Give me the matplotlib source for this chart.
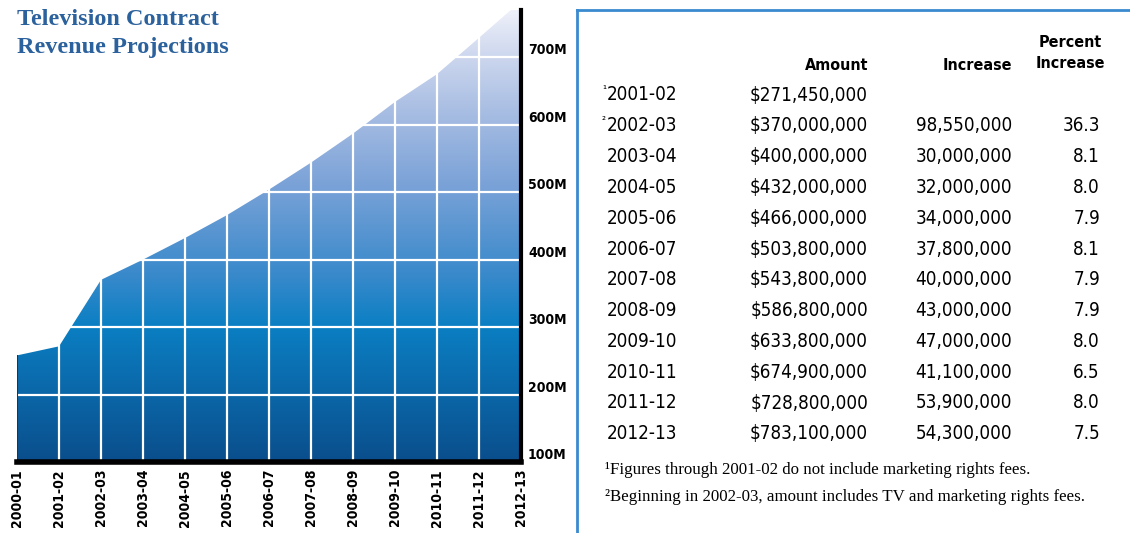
import matplotlib.pyplot as plt
import numpy as np
from matplotlib.colors import LinearSegmentedColormap
from matplotlib.patches import Polygon
from matplotlib.lines import Line2D

seasons = ['2000-01', '2001-02', '2002-03', '2003-04', '2004-05', '2005-06', '2006-07',
           '2007-08', '2008-09', '2009-10', '2010-11', '2011-12', '2012-13']
amounts = [258.0, 271.45, 370.0, 400.0, 432.0, 466.0, 503.8,
           543.8, 586.8, 633.8, 674.9, 728.8, 783.1]
y_ticks = [100, 200, 300, 400, 500, 600, 700]

# table
table_marks = ['\u00b9', '\u00b2', '', '', '', '', '', '', '', '', '', '']
table_seasons = seasons[1:]
table_amounts = [271450000, 370000000, 400000000, 432000000, 466000000, 503800000,
                 543800000, 586800000, 633800000, 674900000, 728800000, 783100000]
table_increase = [None, 98550000, 30000000, 32000000, 34000000, 37800000,
                  40000000, 43000000, 47000000, 41100000, 53900000, 54300000]
table_pct = [None, 36.3, 8.1, 8.0, 7.9, 8.1, 7.9, 7.9, 8.0, 6.5, 8.0, 7.5]

footnotes = ['\u00b9Figures through 2001-02 do not include marketing rights fees.',
             '\u00b2Beginning in 2002-03, amount includes TV and marketing rights fees.']

narrow = dict(family='DejaVu Sans', stretch='condensed')
serif = dict(family='Liberation Serif')
W, H = 1130, 533


def px(x, y):
    return x / W, 1 - y / H


fig = plt.figure(figsize=(W / 100, H / 100), dpi=100)
ax = fig.add_axes([17 / W, 71 / H, 504 / W, 452 / H])
ax.patch.set_visible(False)

ymax = 770
x = np.arange(len(seasons))
ax.set_xlim(0, len(seasons) - 1)
ax.set_ylim(100, ymax)

# gradient fill clipped to the area under the line
cmap = LinearSegmentedColormap.from_list('tv', [
    (0.0, '#0b4e8c'), (0.30, '#0a7fc3'), (0.42, '#3b8acb'), (0.62, '#7ca3d8'),
    (0.78, '#a9bee3'), (0.90, '#cdd7ee'), (1.0, '#eef0f9')])
verts = [(0, 100)] + list(zip(x, amounts)) + [(x[-1], 100)]
poly = Polygon(verts, closed=True, facecolor='none', edgecolor='none')
ax.add_patch(poly)
grad = np.linspace(0, 1, 256).reshape(-1, 1)
im = ax.imshow(grad, cmap=cmap, origin='lower', aspect='auto',
               extent=[0, x[-1], 100, ymax], zorder=1)
im.set_clip_path(poly)

# white grid
ax.vlines(x[1:-1], 100, ymax, color='white', lw=1.6, zorder=2)
ax.hlines(y_ticks[1:], 0, x[-1], color='white', lw=1.6, zorder=2)
ax.vlines(0, 100, amounts[0], color='#0a3a6a', lw=1.5, zorder=3)

for s in ['top', 'left']:
    ax.spines[s].set_visible(False)
ax.spines['right'].set_linewidth(3)
ax.spines['bottom'].set_linewidth(4)
ax.spines['right'].set_zorder(4)
ax.spines['bottom'].set_zorder(4)

ax.yaxis.tick_right()
ax.set_yticks(y_ticks)
ax.set_yticklabels([f'{v}M' for v in y_ticks], weight='bold', fontsize=10, **narrow)
for lbl in ax.get_yticklabels():
    lbl.set_va('bottom')
ax.set_xticks(x)
ax.set_xticklabels(seasons, rotation=90, weight='bold', fontsize=10, **narrow)
ax.tick_params(length=0, pad=5)

# title
fig.text(*px(17, 9), 'Television Contract\nRevenue Projections', ha='left', va='top',
         weight='bold', fontsize=17.5, color='#2b619c', linespacing=1.45, **serif)

# table frame
blue = '#3a8ad0'
fig.add_artist(Line2D([577 / W, 1], [1 - 10 / H] * 2, transform=fig.transFigure, color=blue, lw=2))
fig.add_artist(Line2D([577 / W] * 2, [1 - 10 / H, 0], transform=fig.transFigure, color=blue, lw=2))

# headers
hdr = dict(weight='bold', fontsize=11.5, va='center', ha='right', **narrow)
fig.text(*px(868, 65), 'Amount', **hdr)
fig.text(*px(1012, 65), 'Increase', **hdr)
fig.text(*px(1105, 53), 'Percent\nIncrease', multialignment='center', linespacing=1.45, **hdr)

# rows
row = dict(fontsize=13.5, va='center', **narrow)
for i in range(len(table_seasons)):
    yy = 95 + i * 30.8
    fig.text(*px(606, yy - 5), table_marks[i], ha='right', fontsize=8, va='center', **narrow)
    fig.text(*px(607, yy), table_seasons[i], ha='left', **row)
    fig.text(*px(868, yy), f'${table_amounts[i]:,}', ha='right', **row)
    if table_increase[i] is not None:
        fig.text(*px(1012, yy), f'{table_increase[i]:,}', ha='right', **row)
        fig.text(*px(1100, yy), f'{table_pct[i]:.1f}', ha='right', **row)

for i, note in enumerate(footnotes):
    fig.text(*px(605, 470 + i * 27), note, ha='left', va='center', fontsize=12.2, **serif)

fig.savefig('out.png', dpi=100)
